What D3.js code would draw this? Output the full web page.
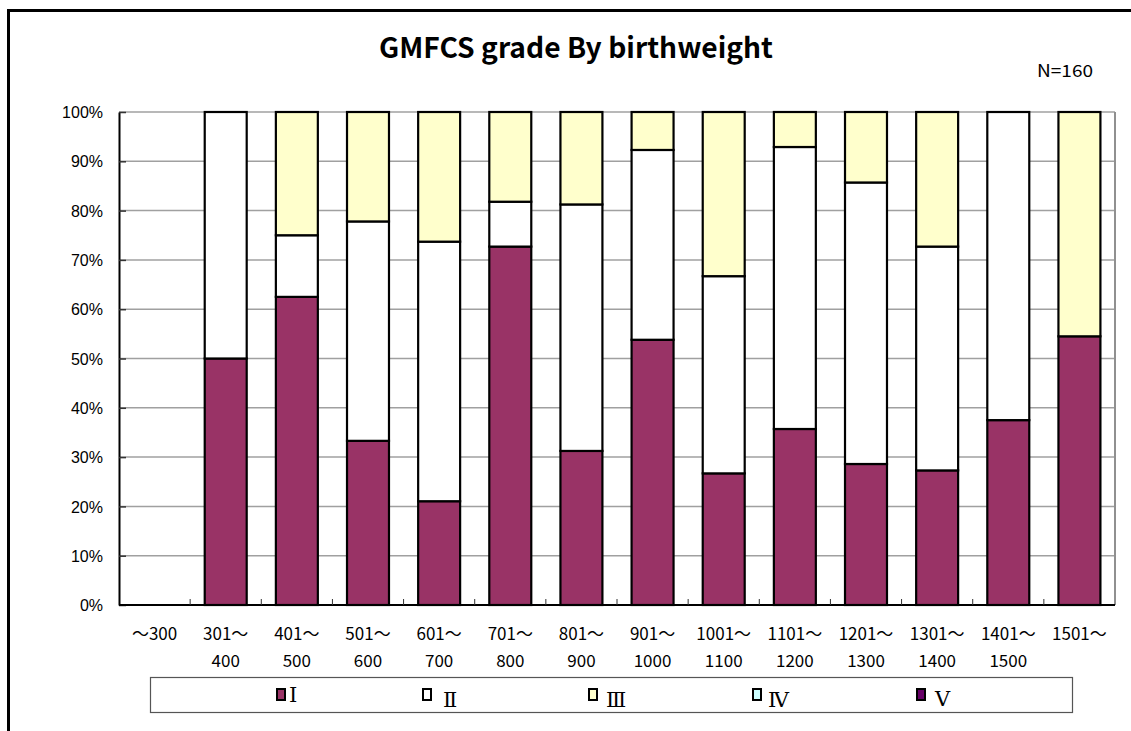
<!DOCTYPE html>
<html><head><meta charset="utf-8">
<script src="https://cdn.jsdelivr.net/npm/d3@7"></script>
<style>
html,body{margin:0;padding:0;background:#fff;}
svg{display:block;}
</style></head>
<body>
<svg id="chart" width="1131" height="731"></svg>
<script>
// ---- data ----
const categories = ["～300","301～400","401～500","501～600","601～700","701～800","801～900","901～1000","1001～1100","1101～1200","1201～1300","1301～1400","1401～1500","1501～"];
const labelLine1 = ["～300","301～","401～","501～","601～","701～","801～","901～","1001～","1101～","1201～","1301～","1401～","1501～"];
const labelLine2 = ["","400","500","600","700","800","900","1000","1100","1200","1300","1400","1500",""];
const seriesNames = ["Ⅰ","Ⅱ","Ⅲ","Ⅳ","Ⅴ"];
const gradeI   = [0, 50.0, 62.5, 33.3, 21.05, 72.7, 31.25, 53.8, 26.7, 35.7, 28.6, 27.3, 37.5, 54.5];
const gradeII  = [0, 50.0, 12.5, 44.5, 52.65, 9.1, 50.0, 38.5, 40.0, 57.2, 57.1, 45.4, 62.5, 0];
const gradeIII = [0, 0, 25.0, 22.2, 26.3, 18.2, 18.75, 7.7, 33.3, 7.1, 14.3, 27.3, 0, 45.5];
const gradeIV  = [0,0,0,0,0,0,0,0,0,0,0,0,0,0];
const gradeV   = [0,0,0,0,0,0,0,0,0,0,0,0,0,0];
const yTicks = [0,10,20,30,40,50,60,70,80,90,100];
const colors = ["#993366","#FFFFFF","#FFFFCC","#CCFFFF","#660066"];
const titleText = "GMFCS grade By birthweight";
const noteText = "N=160";

// ---- build ----
const svg = d3.select("#chart");
const W = 1131, H = 731;
const plot = {left:119, right:1115, top:112, bottom:605};

// outer frame
svg.append("rect").attr("x",8.5).attr("y",10.5).attr("width",W+20).attr("height",H+20)
  .attr("fill","#fff").attr("stroke","#000").attr("stroke-width",3);

svg.append("text").attr("x",576).attr("y",58).attr("text-anchor","middle")
  .attr("font-family","'Noto Sans CJK JP','Liberation Sans',sans-serif").attr("font-weight",700)
  .attr("font-size",28).attr("textLength",394).attr("lengthAdjust","spacingAndGlyphs")
  .attr("fill","#000").text(titleText);
svg.append("text").attr("x",1093).attr("y",77).attr("text-anchor","end")
  .attr("font-family","'Noto Sans CJK JP','Liberation Sans',sans-serif")
  .attr("font-size",17).attr("textLength",56).attr("lengthAdjust","spacingAndGlyphs")
  .attr("fill","#000").text(noteText);

const x = d3.scaleBand().domain(categories).range([plot.left, plot.right]).paddingInner(0.41).paddingOuter(0.205);
const y = d3.scaleLinear().domain([0,100]).range([plot.bottom, plot.top]);

// gridlines
svg.append("g").selectAll("line").data(yTicks.filter(d=>d>0)).join("line")
  .attr("x1",plot.left).attr("x2",plot.right)
  .attr("y1",d=>y(d)).attr("y2",d=>y(d))
  .attr("stroke","#a0a0a0").attr("stroke-width",1.5);
// plot frame right
svg.append("line").attr("x1",plot.right).attr("x2",plot.right).attr("y1",plot.top).attr("y2",plot.bottom)
  .attr("stroke","#909090").attr("stroke-width",2);

// stacked data
const rows = categories.map((c,i)=>({cat:c, s0:gradeI[i], s1:gradeII[i], s2:gradeIII[i], s3:gradeIV[i], s4:gradeV[i]}));
const stack = d3.stack().keys(["s0","s1","s2","s3","s4"]);
const stacked = stack(rows);

const bars = svg.append("g");
stacked.forEach((layer,li)=>{
  bars.append("g").selectAll("rect").data(layer.filter(d=>d[1]-d[0]>0)).join("rect")
    .attr("x",d=>x(d.data.cat))
    .attr("width",x.bandwidth())
    .attr("y",d=>y(d[1]))
    .attr("height",d=>y(d[0])-y(d[1]))
    .attr("fill",colors[li]).attr("stroke","#000").attr("stroke-width",2.2);
});

// y axis
const yAxis = d3.axisLeft(y).tickValues(yTicks).tickFormat(d=>d+"%").tickSizeInner(-7).tickSizeOuter(0).tickPadding(16);
const gy = svg.append("g").attr("transform",`translate(${plot.left},0)`).call(yAxis);
gy.select(".domain").attr("stroke","#000").attr("stroke-width",2);
gy.selectAll(".tick line").attr("stroke","#333").attr("stroke-width",1.5);
gy.selectAll(".tick text").attr("font-family","'Liberation Sans',Arial,sans-serif").attr("font-size",16).attr("fill","#000").attr("dy","0.35em");

// x axis
svg.append("line").attr("x1",plot.left).attr("x2",plot.right).attr("y1",plot.bottom).attr("y2",plot.bottom)
  .attr("stroke","#000").attr("stroke-width",2);
const step = x.step();
svg.append("g").selectAll("line").data(categories.slice(1)).join("line")
  .attr("x1",d=>x(d)-x.padding()*step/2).attr("x2",d=>x(d)-x.padding()*step/2)
  .attr("y1",plot.bottom).attr("y2",plot.bottom-6)
  .attr("stroke","#333").attr("stroke-width",1);
const xl = svg.append("g").attr("font-family","'Noto Sans CJK JP',sans-serif").attr("font-size",17).attr("fill","#000");
xl.selectAll("text.l1").data(categories).join("text").attr("class","l1")
  .attr("x",d=>x(d)+x.bandwidth()/2).attr("y",640).attr("text-anchor","middle")
  .text((d,i)=>labelLine1[i]);
xl.selectAll("text.l2").data(categories).join("text").attr("class","l2")
  .attr("x",d=>x(d)+x.bandwidth()/2).attr("y",667).attr("text-anchor","middle")
  .text((d,i)=>labelLine2[i]);

// legend
svg.append("rect").attr("x",150.5).attr("y",677.5).attr("width",922).attr("height",35)
  .attr("fill","#fff").attr("stroke","#555").attr("stroke-width",1.2);
const legX = [277, 423, 589, 753, 917];
const leg = svg.append("g").selectAll("g").data(seriesNames).join("g")
  .attr("transform",(d,i)=>`translate(${legX[i]},689)`);
leg.append("rect").attr("width",8).attr("height",11).attr("fill",(d,i)=>colors[i]).attr("stroke","#000").attr("stroke-width",2);
leg.append("text").attr("x",(d,i)=>[12,20,17,15,18][i]).attr("y",(d,i)=>[13,18,18,18,17][i])
  .attr("font-family","'DejaVu Serif','Liberation Serif',serif").attr("font-size",21).attr("fill","#000")
  .attr("transform","scale(1,1)")
  .text(d=>d);
</script>
</body></html>
